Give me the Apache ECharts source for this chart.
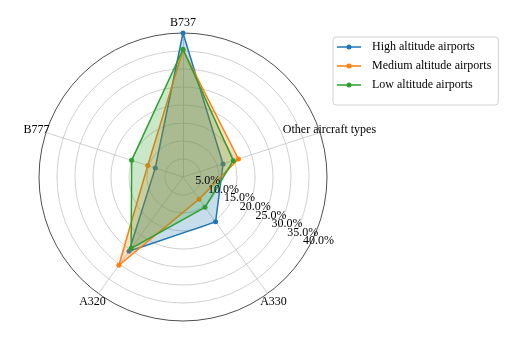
<!DOCTYPE html>
<html>
<head>
<meta charset="utf-8">
<script src="https://cdn.jsdelivr.net/npm/echarts@6/dist/echarts.min.js"></script>
<style>
  html, body { margin: 0; padding: 0; background: #fff; }
  #chart { width: 510px; height: 340px; }
</style>
</head>
<body>
<div id="chart"></div>
<script>
// categories in clockwise order starting at the top
const categories = ["B737", "Other aircraft types", "A330", "A320", "B777"];
const seriesNames = ["High altitude airports", "Medium altitude airports", "Low altitude airports"];
const highValues = [40.0, 11.7, 15.4, 25.5, 8.1];
const mediumValues = [35.3, 16.2, 7.6, 30.3, 10.3];
const lowValues = [35.5, 14.7, 10.4, 24.5, 15.0];
const radialTicks = [5, 10, 15, 20, 25, 30, 35, 40];
const radialTickLabels = ["5.0%", "10.0%", "15.0%", "20.0%", "25.0%", "30.0%", "35.0%", "40.0%"];

const colors = ["#1f77b4", "#ff7f0e", "#2ca02c"];
const font = "Liberation Serif";
const rMax = 40;
const center = [183, 177];
const radius = 144;

// echarts radar goes counter-clockwise, so reorder: first one stays, rest reversed
const order = [0, 4, 3, 2, 1];
const reorder = (arr) => order.map((i) => arr[i]);

const chart = echarts.init(document.getElementById("chart"));

// 网格线颜色：最外圈为黑色
const gridColors = radialTicks.map(() => "#c4c4c4");
gridColors.unshift("#c4c4c4");
gridColors[gridColors.length - 1] = "#222";

const legendIcon =
  "path://M0,4.2 L24,4.2 L24,5.8 L0,5.8 Z M12,2.5 A2.5,2.5 0 1,1 12,7.5 A2.5,2.5 0 1,1 12,2.5 Z";

const series = [highValues, mediumValues, lowValues].map((vals, i) => ({
  type: "radar",
  name: seriesNames[i],
  symbol: "circle",
  symbolSize: 5,
  z: 2 + i,
  lineStyle: { color: colors[i], width: 1.5 },
  itemStyle: { color: colors[i] },
  areaStyle: { color: colors[i], opacity: 0.25 },
  data: [{ value: reorder(vals), name: seriesNames[i] }],
}));

// radial tick labels; two axes so the last two labels both survive overlap checks
const radiusLabel = {
  margin: 5,
  align: "center",
  verticalAlign: "middle",
  padding: [0, 0, 0, 13],
  fontFamily: font,
  fontSize: 12,
  color: "#000",
  showMinLabel: false,
};
const makeRadiusAxis = (idx, onlyMax) => ({
  polarIndex: idx,
  type: "value",
  min: 0,
  max: rMax,
  interval: 5,
  z: 20,
  axisLine: { show: false },
  axisTick: { show: false },
  splitLine: { show: false },
  axisLabel: Object.assign({}, radiusLabel, {
    showMaxLabel: onlyMax,
    formatter: (v) => {
      if (onlyMax && v !== rMax) return "";
      return radialTickLabels[radialTicks.indexOf(v)] || "";
    },
  }),
});
const makeAngleAxis = (idx) => ({
  polarIndex: idx,
  type: "value",
  min: 0,
  max: 360,
  startAngle: -28.4,
  show: false,
});

const option = {
  backgroundColor: "#fff",
  animation: false,
  legend: {
    orient: "vertical",
    left: 333,
    top: 37,
    data: seriesNames,
    icon: legendIcon,
    itemWidth: 24,
    itemHeight: 10,
    itemGap: 7,
    padding: [4, 7, 14, 4],
    backgroundColor: "#fff",
    borderColor: "#d0d0d0",
    borderWidth: 1,
    borderRadius: 3,
    textStyle: { fontFamily: font, fontSize: 12, color: "#000", padding: [0, 0, 0, 6] },
  },
  radar: {
    center: center,
    radius: radius,
    startAngle: 90,
    shape: "circle",
    splitNumber: radialTicks.length,
    indicator: reorder(categories).map((name) => ({ name: name, min: 0, max: rMax })),
    nameGap: 10,
    axisName: {
      color: "#000",
      fontFamily: font,
      fontSize: 12,
      align: "center",
      verticalAlign: "middle",
    },
    axisLine: { lineStyle: { color: "#c4c4c4", width: 0.8 } },
    splitLine: { lineStyle: { color: gridColors, width: 0.8 } },
    splitArea: { show: false },
  },
  polar: [
    { center: center, radius: radius },
    { center: center, radius: radius },
  ],
  angleAxis: [makeAngleAxis(0), makeAngleAxis(1)],
  radiusAxis: [makeRadiusAxis(0, false), makeRadiusAxis(1, true)],
  series: series,
};

chart.setOption(option);
</script>
</body>
</html>
